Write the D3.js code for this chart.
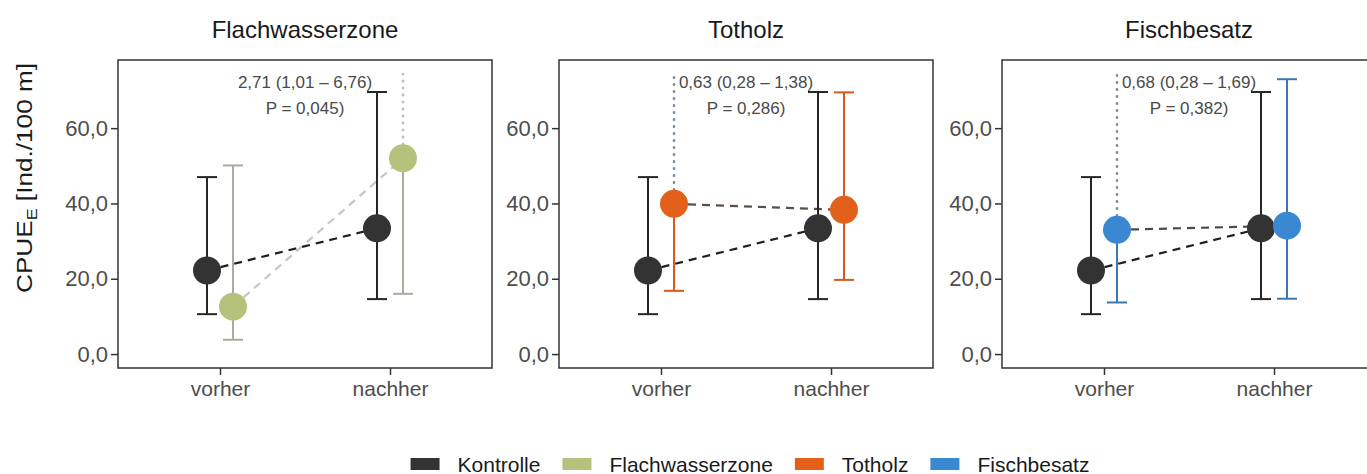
<!DOCTYPE html>
<html>
<head>
<meta charset="utf-8">
<script src="https://cdn.jsdelivr.net/npm/d3@7"></script>
<style>
  body { margin: 0; background: #fff; }
  text { font-family: "Liberation Sans", Arial, sans-serif; }
</style>
</head>
<body>
<script>
// values
var phases = ["vorher", "nachher"];
var legendGroups = ["Kontrolle", "Flachwasserzone", "Totholz", "Fischbesatz"];
var panels = ["Flachwasserzone", "Totholz", "Fischbesatz"];

var kontrolleMean = [22.2, 33.4];
var kontrolleLow = [10.6, 14.6];
var kontrolleHigh = [47.0, 69.6];

var treatMean = [[12.6, 52.0], [39.9, 38.3], [33.0, 34.1]];
var treatLow = [[3.8, 16.0], [16.8, 19.7], [13.7, 14.7]];
var treatHigh = [[50.1, null], [null, 69.5], [null, 73.0]];

// dotted line up to the annotation
var annotPhase = [1, 0, 0];
var annotTop = 74.4;
var oddsText = ["2,71 (1,01 \u2013 6,76)", "0,63 (0,28 \u2013 1,38)", "0,68 (0,28 \u2013 1,69)"];
var pText = ["P = 0,045)", "P = 0,286)", "P = 0,382)"];

var yTicks = [0, 20, 40, 60];

(function () {
    // styles
    var groupColor = ["#333333", "#b4c27c", "#e2601a", "#3b88d2"];
    var barColor = ["#262626", "#ababa4", "#d9561c", "#3c78ad"];
    var lineColor = ["#c6c6c6", "#5b5048", "#4a4a4a"];
    var dotColor = ["#bdbdbd", "#7d8ba3", "#8a8a8a"];

    var width = 1367, height = 474;
    var panelLeft = [118, 559, 1002], panelW = 374;
    var plotTop = 60, plotBottom = 368;

    var locale = d3.formatLocale({decimal: ",", thousands: ".", grouping: [3], currency: ["", "\u20ac"]});
    var fmt = locale.format(".1f");

    var svg = d3.select("body").append("svg")
        .attr("width", width)
        .attr("height", height);

    var y = d3.scaleLinear()
        .domain([-3.7, 78.1])
        .range([plotBottom, plotTop]);

    var x = d3.scalePoint()
        .domain(phases)
        .range([0, panelW])
        .padding(0.6);

    var dodge = 13;

    panels.forEach(function (name, p) {
        var g = svg.append("g")
            .attr("transform", "translate(" + panelLeft[p] + ",0)");

        // title
        g.append("text")
            .attr("x", panelW / 2)
            .attr("y", 38)
            .attr("text-anchor", "middle")
            .attr("font-size", "24px")
            .attr("fill", "#1a1a1a")
            .text(name);

        // y axis
        var yAxis = d3.axisLeft(y).tickValues(yTicks).tickFormat(fmt).tickSize(7).tickPadding(3);
        var ya = g.append("g").call(yAxis);
        ya.select(".domain").remove();
        ya.selectAll("line").attr("stroke", "#333").attr("stroke-width", 1.5);
        ya.selectAll("text").attr("font-size", "22px").attr("fill", "#4d4d4d")
            .attr("font-family", "Liberation Sans, Arial, sans-serif");

        // x axis
        var xAxis = d3.axisBottom(x).tickSize(7).tickPadding(6);
        var xa = g.append("g").attr("transform", "translate(0," + plotBottom + ")").call(xAxis);
        xa.select(".domain").remove();
        xa.selectAll("line").attr("stroke", "#333").attr("stroke-width", 1.5);
        xa.selectAll("text").attr("font-size", "21px").attr("fill", "#4d4d4d")
            .attr("font-family", "Liberation Sans, Arial, sans-serif");

        // dashed connecting lines
        var line = d3.line()
            .x(function (d) { return d[0]; })
            .y(function (d) { return y(d[1]); });

        var kPts = phases.map(function (ph, i) { return [x(ph) - dodge, kontrolleMean[i]]; });
        var tPts = phases.map(function (ph, i) { return [x(ph) + dodge, treatMean[p][i]]; });

        g.append("path").attr("d", line(tPts))
            .attr("fill", "none").attr("stroke", lineColor[p])
            .attr("stroke-width", 2.2).attr("stroke-dasharray", "8,6");
        g.append("path").attr("d", line(kPts))
            .attr("fill", "none").attr("stroke", "#1f1f1f")
            .attr("stroke-width", 2.2).attr("stroke-dasharray", "8,6");

        // dotted line to annotation
        var ap = annotPhase[p];
        g.append("line")
            .attr("x1", x(phases[ap]) + dodge).attr("x2", x(phases[ap]) + dodge)
            .attr("y1", y(treatMean[p][ap])).attr("y2", y(annotTop))
            .attr("stroke", dotColor[p]).attr("stroke-width", 2.6)
            .attr("stroke-dasharray", "0.5,6.5").attr("stroke-linecap", "round");

        // error bars
        function errorBar(cx, lo, hi, mean, col) {
            var upper = hi === null ? mean : hi;
            g.append("line")
                .attr("x1", cx).attr("x2", cx)
                .attr("y1", y(lo)).attr("y2", y(upper))
                .attr("stroke", col).attr("stroke-width", 2);
            g.append("line")
                .attr("x1", cx - 10).attr("x2", cx + 10)
                .attr("y1", y(lo)).attr("y2", y(lo))
                .attr("stroke", col).attr("stroke-width", 2);
            if (hi !== null) {
                g.append("line")
                    .attr("x1", cx - 10).attr("x2", cx + 10)
                    .attr("y1", y(hi)).attr("y2", y(hi))
                    .attr("stroke", col).attr("stroke-width", 2);
            }
        }
        phases.forEach(function (ph, i) {
            errorBar(x(ph) - dodge, kontrolleLow[i], kontrolleHigh[i], kontrolleMean[i], barColor[0]);
            errorBar(x(ph) + dodge, treatLow[p][i], treatHigh[p][i], treatMean[p][i], barColor[p + 1]);
        });

        // points
        g.selectAll(".k").data(kPts).enter().append("circle")
            .attr("cx", function (d) { return d[0]; })
            .attr("cy", function (d) { return y(d[1]); })
            .attr("r", 14).attr("fill", groupColor[0]);
        g.selectAll(".t").data(tPts).enter().append("circle")
            .attr("cx", function (d) { return d[0]; })
            .attr("cy", function (d) { return y(d[1]); })
            .attr("r", 14).attr("fill", groupColor[p + 1]);

        // annotation
        g.append("text")
            .attr("x", panelW / 2).attr("y", 88)
            .attr("text-anchor", "middle").attr("font-size", "17px").attr("fill", "#4a4a4a")
            .text(oddsText[p]);
        g.append("text")
            .attr("x", panelW / 2).attr("y", 114)
            .attr("text-anchor", "middle").attr("font-size", "17px").attr("fill", "#4a4a4a")
            .text(pText[p]);

        // frame
        g.append("rect")
            .attr("x", 0).attr("y", plotTop)
            .attr("width", panelW).attr("height", plotBottom - plotTop)
            .attr("fill", "none").attr("stroke", "#333").attr("stroke-width", 1.5);
    });

    // y axis title
    var yt = svg.append("text")
        .attr("transform", "translate(32,178)rotate(-90)")
        .attr("text-anchor", "middle")
        .attr("font-size", "22px")
        .attr("textLength", 230)
        .attr("lengthAdjust", "spacingAndGlyphs")
        .attr("fill", "#1a1a1a");
    yt.append("tspan").text("CPUE");
    yt.append("tspan").attr("font-size", "15px").attr("dy", 5).text("E");
    yt.append("tspan").attr("dy", -5).text(" [Ind./100 m]");

    // legend
    var legend = svg.append("g");
    var lx = 0;
    legendGroups.forEach(function (name, i) {
        legend.append("rect")
            .attr("x", lx).attr("y", -6)
            .attr("width", 29).attr("height", 12)
            .attr("fill", groupColor[i]);
        var t = legend.append("text")
            .attr("x", lx + 47).attr("y", 7.5)
            .attr("font-size", "21px").attr("fill", "#1a1a1a")
            .text(name);
        lx += 47 + t.node().getComputedTextLength() + 22;
    });
    lx -= 22;
    legend.attr("transform", "translate(" + (750 - lx / 2) + ",464)");
})();
</script>
</body>
</html>
